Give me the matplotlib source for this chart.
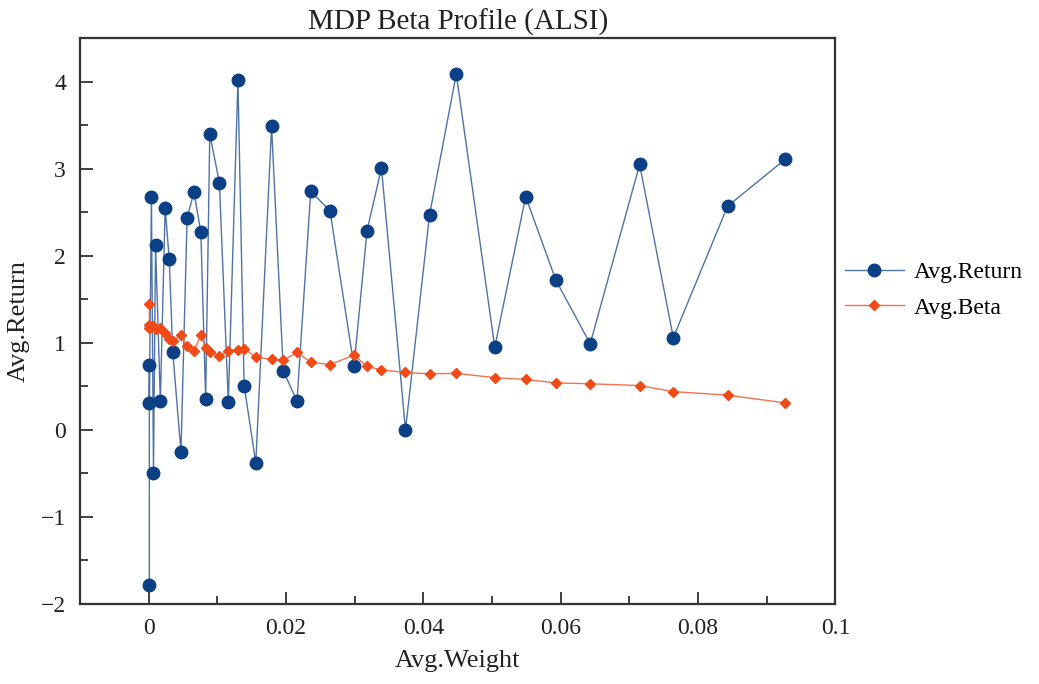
import matplotlib
matplotlib.use("Agg")
import matplotlib.pyplot as plt
from matplotlib.ticker import MultipleLocator

plt.rcParams['font.family'] = ['Liberation Serif', 'DejaVu Serif']

# average weight of each stock (sorted), shared by both series
avg_weight = [0.0001, 0.0001, 0.0001, 0.0004, 0.0007, 0.0010, 0.0017, 0.0024,
              0.0030, 0.0035, 0.0047, 0.0056, 0.0066, 0.0076, 0.0083, 0.0089,
              0.0103, 0.0116, 0.0130, 0.0139, 0.0156, 0.0179, 0.0196, 0.0216,
              0.0236, 0.0264, 0.0299, 0.0318, 0.0339, 0.0374, 0.0409, 0.0448,
              0.0504, 0.0549, 0.0593, 0.0643, 0.0715, 0.0764, 0.0843, 0.0927]

avg_return = [-1.78, 0.75, 0.31, 2.68, -0.49, 2.13, 0.33, 2.55,
              1.96, 0.90, -0.25, 2.44, 2.73, 2.27, 0.35, 3.40,
              2.84, 0.32, 4.02, 0.51, -0.38, 3.49, 0.68, 0.33,
              2.74, 2.52, 0.73, 2.29, 3.01, 0.00, 2.47, 4.09,
              0.95, 2.68, 1.72, 0.99, 3.05, 1.06, 2.57, 3.11]

avg_beta = [1.45, 1.17, 1.20, 1.18, 1.19, 1.16, 1.17, 1.11,
            1.05, 1.02, 1.09, 0.96, 0.91, 1.09, 0.94, 0.90,
            0.85, 0.91, 0.92, 0.93, 0.84, 0.81, 0.80, 0.89,
            0.78, 0.75, 0.86, 0.73, 0.69, 0.66, 0.645, 0.65,
            0.60, 0.58, 0.54, 0.53, 0.51, 0.44, 0.40, 0.31]

fig = plt.figure(figsize=(10.39, 6.84), dpi=100)
ax = fig.add_axes([0.077, 0.117, 0.727, 0.827])

# Return series
ax.plot(avg_weight, avg_return, color='#4f72a8', linewidth=1.0,
        marker='o', markersize=9, markerfacecolor='#0b4086',
        markeredgecolor='#0b4086', label='Avg.Return', zorder=2)

# Beta series
ax.plot(avg_weight, avg_beta, color='#f2714f', linewidth=1.0,
        marker='D', markersize=5.5, markerfacecolor='#f04a16',
        markeredgecolor='#f04a16', label='Avg.Beta', zorder=3)

ax.set_xlim(-0.01, 0.1)
ax.set_ylim(-2, 4.5)
ax.xaxis.set_minor_locator(MultipleLocator(0.01))
ax.yaxis.set_major_locator(MultipleLocator(1))
ax.yaxis.set_minor_locator(MultipleLocator(0.5))
ax.set_xticks([0, 0.02, 0.04, 0.06, 0.08, 0.1])
ax.set_xticklabels(['0', '0.02', '0.04', '0.06', '0.08', '0.1'])

ax.tick_params(which='both', direction='in', top=False, right=False,
               colors='#333333', labelsize=17, labelcolor='#222222', width=1.3)
ax.tick_params(which='major', length=9, pad=10)
ax.tick_params(which='minor', length=6)

for sp in ax.spines.values():
    sp.set_color('#333333')
    sp.set_linewidth(1.6)

ax.set_xlabel('Avg.Weight', fontsize=19, color='#222222', labelpad=8)
ax.set_ylabel('Avg.Return', fontsize=19, color='#222222', labelpad=8)
ax.set_title('MDP Beta Profile (ALSI)', fontsize=21, color='#222222', pad=6)

ax.legend(loc='center left', bbox_to_anchor=(1.0, 0.555), frameon=False,
          fontsize=17, handlelength=2.5, handletextpad=0.4,
          labelspacing=0.6, borderaxespad=0.0)

fig.savefig('out.png', dpi=100)
